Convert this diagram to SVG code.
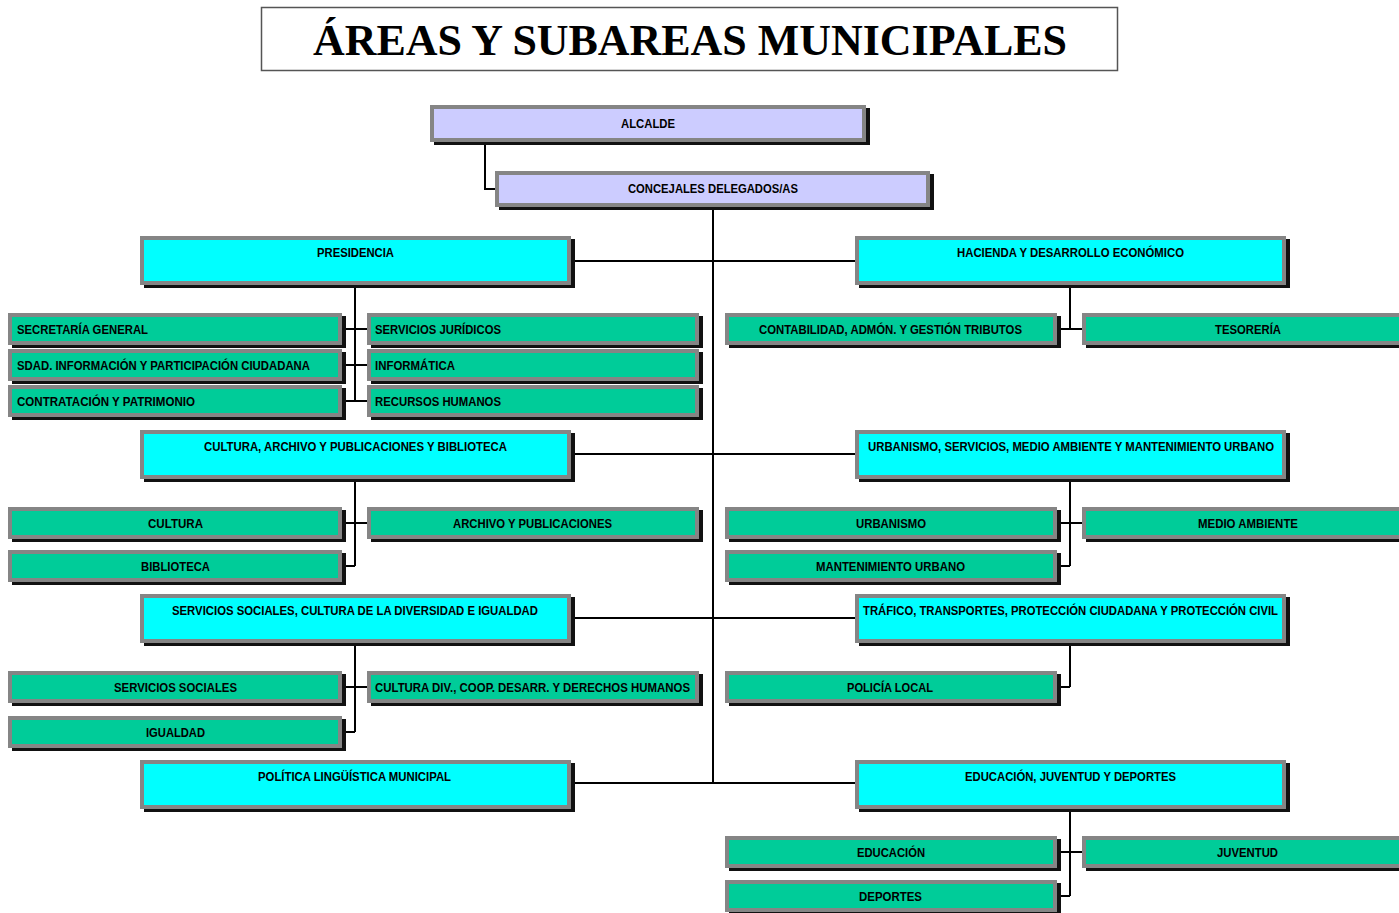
<svg xmlns="http://www.w3.org/2000/svg" width="1399" height="913" viewBox="0 0 1399 913">
<style>
.sh{fill:#111}
.fr{fill:#858585}
.top{fill:#CCCCFF}
.par{fill:#00FFFF}
.ch{fill:#00CC99}
.t{font-family:"Liberation Sans",Arial,sans-serif;font-weight:bold;font-size:12px;fill:#000}
.c{text-anchor:middle}
.ln{stroke:#000;stroke-width:2;fill:none}
.title{font-family:"Liberation Serif","Times New Roman",serif;font-weight:bold;font-size:44px;fill:#000;text-anchor:middle}
</style>
<rect width="1399" height="913" fill="#fff"/>
<g id="title">
<rect x="261.5" y="7.5" width="856" height="63" fill="#fff" stroke="#555" stroke-width="1.5"/>
<text class="title" x="690" y="55" textLength="754" lengthAdjust="spacingAndGlyphs">ÁREAS Y SUBAREAS MUNICIPALES</text>
</g>
<g id="connectors">
<path class="ln" d="M485 142V189H495"/>
<path class="ln" d="M713 207V783"/>
<path class="ln" d="M571 261H855M571 454H855M571 618H855M571 783H855"/>
<path class="ln" d="M355 285V401M343 329H367M343 365H367M343 401H367"/>
<path class="ln" d="M1070 285V329M1057 329H1082"/>
<path class="ln" d="M355 478V566M343 523H367M343 566H355"/>
<path class="ln" d="M1070 478V566M1057 523H1082M1057 566H1070"/>
<path class="ln" d="M355 642V732M343 687H367M343 732H355"/>
<path class="ln" d="M1070 642V687M1057 687H1070"/>
<path class="ln" d="M1070 808V896M1057 852H1082M1057 896H1070"/>
</g>
<g id="alcalde"><rect class="sh" x="434" y="108" width="436" height="37"/><rect class="fr" x="430" y="105" width="436" height="37"/><rect class="top" x="434" y="109" width="428" height="29"/><text class="t c" x="648" y="128" textLength="54" lengthAdjust="spacingAndGlyphs">ALCALDE</text></g>
<g id="concejales"><rect class="sh" x="499" y="174" width="435" height="36"/><rect class="fr" x="495" y="171" width="435" height="36"/><rect class="top" x="499" y="175" width="427" height="28"/><text class="t c" x="713" y="193" textLength="170" lengthAdjust="spacingAndGlyphs">CONCEJALES DELEGADOS/AS</text></g>

<g id="presidencia"><rect class="sh" x="144" y="239" width="431" height="49"/><rect class="fr" x="140" y="236" width="431" height="49"/><rect class="par" x="144" y="240" width="423" height="41"/><text class="t c" x="355.5" y="257" textLength="77" lengthAdjust="spacingAndGlyphs">PRESIDENCIA</text></g>
<g id="hacienda"><rect class="sh" x="859" y="239" width="431" height="49"/><rect class="fr" x="855" y="236" width="431" height="49"/><rect class="par" x="859" y="240" width="423" height="41"/><text class="t c" x="1070.5" y="257" textLength="227" lengthAdjust="spacingAndGlyphs">HACIENDA Y DESARROLLO ECONÓMICO</text></g>

<g id="secretaria"><rect class="sh" x="12" y="316" width="334" height="32"/><rect class="fr" x="8" y="313" width="334" height="32"/><rect class="ch" x="12" y="317" width="326" height="24"/><text class="t" x="17" y="334" textLength="131" lengthAdjust="spacingAndGlyphs">SECRETARÍA GENERAL</text></g>
<g id="sdad"><rect class="sh" x="12" y="352" width="334" height="32"/><rect class="fr" x="8" y="349" width="334" height="32"/><rect class="ch" x="12" y="353" width="326" height="24"/><text class="t" x="17" y="370" textLength="293" lengthAdjust="spacingAndGlyphs">SDAD. INFORMACIÓN Y PARTICIPACIÓN CIUDADANA</text></g>
<g id="contratacion"><rect class="sh" x="12" y="388" width="334" height="32"/><rect class="fr" x="8" y="385" width="334" height="32"/><rect class="ch" x="12" y="389" width="326" height="24"/><text class="t" x="17" y="406" textLength="178" lengthAdjust="spacingAndGlyphs">CONTRATACIÓN Y PATRIMONIO</text></g>
<g id="juridicos"><rect class="sh" x="371" y="316" width="332" height="32"/><rect class="fr" x="367" y="313" width="332" height="32"/><rect class="ch" x="371" y="317" width="324" height="24"/><text class="t" x="375" y="334" textLength="126" lengthAdjust="spacingAndGlyphs">SERVICIOS JURÍDICOS</text></g>
<g id="informatica"><rect class="sh" x="371" y="352" width="332" height="32"/><rect class="fr" x="367" y="349" width="332" height="32"/><rect class="ch" x="371" y="353" width="324" height="24"/><text class="t" x="375" y="370" textLength="80" lengthAdjust="spacingAndGlyphs">INFORMÁTICA</text></g>
<g id="rrhh"><rect class="sh" x="371" y="388" width="332" height="32"/><rect class="fr" x="367" y="385" width="332" height="32"/><rect class="ch" x="371" y="389" width="324" height="24"/><text class="t" x="375" y="406" textLength="126" lengthAdjust="spacingAndGlyphs">RECURSOS HUMANOS</text></g>

<g id="contabilidad"><rect class="sh" x="729" y="316" width="332" height="32"/><rect class="fr" x="725" y="313" width="332" height="32"/><rect class="ch" x="729" y="317" width="324" height="24"/><text class="t c" x="890.5" y="334" textLength="263" lengthAdjust="spacingAndGlyphs">CONTABILIDAD, ADMÓN. Y GESTIÓN TRIBUTOS</text></g>
<g id="tesoreria"><rect class="sh" x="1086" y="316" width="332" height="32"/><rect class="fr" x="1082" y="313" width="332" height="32"/><rect class="ch" x="1086" y="317" width="324" height="24"/><text class="t c" x="1248" y="334" textLength="66" lengthAdjust="spacingAndGlyphs">TESORERÍA</text></g>

<g id="cultura-area"><rect class="sh" x="144" y="433" width="431" height="49"/><rect class="fr" x="140" y="430" width="431" height="49"/><rect class="par" x="144" y="434" width="423" height="41"/><text class="t c" x="355.5" y="451" textLength="303" lengthAdjust="spacingAndGlyphs">CULTURA, ARCHIVO Y PUBLICACIONES Y BIBLIOTECA</text></g>
<g id="urbanismo-area"><rect class="sh" x="859" y="433" width="431" height="49"/><rect class="fr" x="855" y="430" width="431" height="49"/><rect class="par" x="859" y="434" width="423" height="41"/><text class="t c" x="1071" y="451" textLength="406" lengthAdjust="spacingAndGlyphs">URBANISMO, SERVICIOS, MEDIO AMBIENTE Y MANTENIMIENTO URBANO</text></g>

<g id="cultura"><rect class="sh" x="12" y="510" width="334" height="32"/><rect class="fr" x="8" y="507" width="334" height="32"/><rect class="ch" x="12" y="511" width="326" height="24"/><text class="t c" x="175.5" y="528" textLength="55" lengthAdjust="spacingAndGlyphs">CULTURA</text></g>
<g id="biblioteca"><rect class="sh" x="12" y="553" width="334" height="32"/><rect class="fr" x="8" y="550" width="334" height="32"/><rect class="ch" x="12" y="554" width="326" height="24"/><text class="t c" x="175.5" y="571" textLength="69" lengthAdjust="spacingAndGlyphs">BIBLIOTECA</text></g>
<g id="archivo"><rect class="sh" x="371" y="510" width="332" height="32"/><rect class="fr" x="367" y="507" width="332" height="32"/><rect class="ch" x="371" y="511" width="324" height="24"/><text class="t c" x="532.5" y="528" textLength="159" lengthAdjust="spacingAndGlyphs">ARCHIVO Y PUBLICACIONES</text></g>
<g id="urbanismo"><rect class="sh" x="729" y="510" width="332" height="32"/><rect class="fr" x="725" y="507" width="332" height="32"/><rect class="ch" x="729" y="511" width="324" height="24"/><text class="t c" x="891" y="528" textLength="70" lengthAdjust="spacingAndGlyphs">URBANISMO</text></g>
<g id="mantenimiento"><rect class="sh" x="729" y="553" width="332" height="32"/><rect class="fr" x="725" y="550" width="332" height="32"/><rect class="ch" x="729" y="554" width="324" height="24"/><text class="t c" x="890.5" y="571" textLength="149" lengthAdjust="spacingAndGlyphs">MANTENIMIENTO URBANO</text></g>
<g id="medio-ambiente"><rect class="sh" x="1086" y="510" width="332" height="32"/><rect class="fr" x="1082" y="507" width="332" height="32"/><rect class="ch" x="1086" y="511" width="324" height="24"/><text class="t c" x="1248" y="528" textLength="100" lengthAdjust="spacingAndGlyphs">MEDIO AMBIENTE</text></g>

<g id="ss-area"><rect class="sh" x="144" y="597" width="431" height="49"/><rect class="fr" x="140" y="594" width="431" height="49"/><rect class="par" x="144" y="598" width="423" height="41"/><text class="t c" x="355" y="615" textLength="366" lengthAdjust="spacingAndGlyphs">SERVICIOS SOCIALES, CULTURA DE LA DIVERSIDAD E IGUALDAD</text></g>
<g id="trafico-area"><rect class="sh" x="859" y="597" width="431" height="49"/><rect class="fr" x="855" y="594" width="431" height="49"/><rect class="par" x="859" y="598" width="423" height="41"/><text class="t c" x="1070.5" y="615" textLength="415" lengthAdjust="spacingAndGlyphs">TRÁFICO, TRANSPORTES, PROTECCIÓN CIUDADANA Y PROTECCIÓN CIVIL</text></g>

<g id="servicios-sociales"><rect class="sh" x="12" y="674" width="334" height="32"/><rect class="fr" x="8" y="671" width="334" height="32"/><rect class="ch" x="12" y="675" width="326" height="24"/><text class="t c" x="175.5" y="692" textLength="123" lengthAdjust="spacingAndGlyphs">SERVICIOS SOCIALES</text></g>
<g id="igualdad"><rect class="sh" x="12" y="719" width="334" height="32"/><rect class="fr" x="8" y="716" width="334" height="32"/><rect class="ch" x="12" y="720" width="326" height="24"/><text class="t c" x="175.5" y="737" textLength="59" lengthAdjust="spacingAndGlyphs">IGUALDAD</text></g>
<g id="cultura-div"><rect class="sh" x="371" y="674" width="332" height="32"/><rect class="fr" x="367" y="671" width="332" height="32"/><rect class="ch" x="371" y="675" width="324" height="24"/><text class="t" x="375" y="692" textLength="315" lengthAdjust="spacingAndGlyphs">CULTURA DIV., COOP. DESARR. Y DERECHOS HUMANOS</text></g>
<g id="policia"><rect class="sh" x="729" y="674" width="332" height="32"/><rect class="fr" x="725" y="671" width="332" height="32"/><rect class="ch" x="729" y="675" width="324" height="24"/><text class="t c" x="890" y="692" textLength="86" lengthAdjust="spacingAndGlyphs">POLICÍA LOCAL</text></g>

<g id="politica-area"><rect class="sh" x="144" y="763" width="431" height="49"/><rect class="fr" x="140" y="760" width="431" height="49"/><rect class="par" x="144" y="764" width="423" height="41"/><text class="t c" x="354.5" y="781" textLength="193" lengthAdjust="spacingAndGlyphs">POLÍTICA LINGÜÍSTICA MUNICIPAL</text></g>
<g id="educacion-area"><rect class="sh" x="859" y="763" width="431" height="49"/><rect class="fr" x="855" y="760" width="431" height="49"/><rect class="par" x="859" y="764" width="423" height="41"/><text class="t c" x="1070.5" y="781" textLength="211" lengthAdjust="spacingAndGlyphs">EDUCACIÓN, JUVENTUD Y DEPORTES</text></g>

<g id="educacion"><rect class="sh" x="729" y="839" width="332" height="32"/><rect class="fr" x="725" y="836" width="332" height="32"/><rect class="ch" x="729" y="840" width="324" height="24"/><text class="t c" x="891" y="857" textLength="68" lengthAdjust="spacingAndGlyphs">EDUCACIÓN</text></g>
<g id="deportes"><rect class="sh" x="729" y="883" width="332" height="32"/><rect class="fr" x="725" y="880" width="332" height="32"/><rect class="ch" x="729" y="884" width="324" height="24"/><text class="t c" x="890.5" y="901" textLength="63" lengthAdjust="spacingAndGlyphs">DEPORTES</text></g>
<g id="juventud"><rect class="sh" x="1086" y="839" width="332" height="32"/><rect class="fr" x="1082" y="836" width="332" height="32"/><rect class="ch" x="1086" y="840" width="324" height="24"/><text class="t c" x="1247.5" y="857" textLength="61" lengthAdjust="spacingAndGlyphs">JUVENTUD</text></g>
</svg>
